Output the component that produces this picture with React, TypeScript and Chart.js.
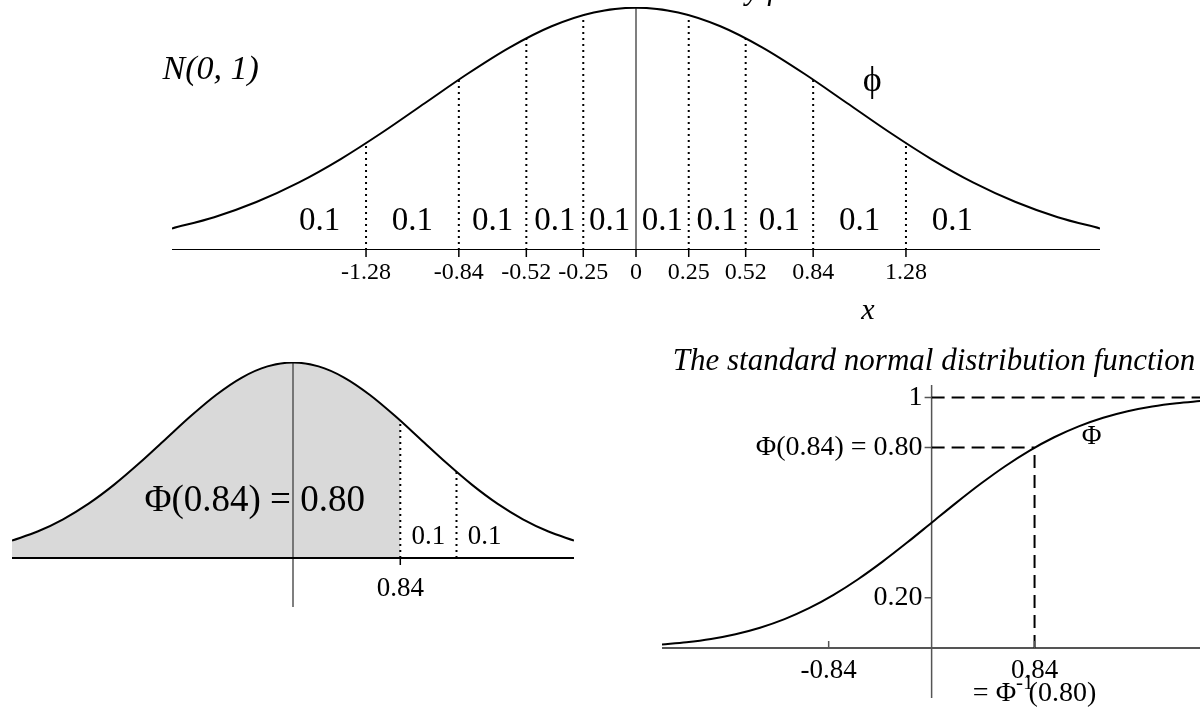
import { useEffect, useRef } from "react";
import { Chart, registerables } from "chart.js";

Chart.register(...registerables);

// Sample points of the standard normal curve
const xs = [-2.2, -2.0, -1.8, -1.6, -1.4, -1.2, -1.0, -0.8, -0.6, -0.4, -0.2, 0, 0.2, 0.4, 0.6, 0.8, 1.0, 1.2, 1.4, 1.6, 1.8, 2.0, 2.2];
const density = [0.0355, 0.054, 0.079, 0.1109, 0.1497, 0.1942, 0.242, 0.2897, 0.3332, 0.3683, 0.391, 0.3989, 0.391, 0.3683, 0.3332, 0.2897, 0.242, 0.1942, 0.1497, 0.1109, 0.079, 0.054, 0.0355];
const cdf = [0.0139, 0.0228, 0.0359, 0.0548, 0.0808, 0.1151, 0.1587, 0.2119, 0.2743, 0.3446, 0.4207, 0.5, 0.5793, 0.6554, 0.7257, 0.7881, 0.8413, 0.8849, 0.9192, 0.9452, 0.9641, 0.9772, 0.9861];

// Decile cut points and the curve height at each cut
const decileCuts = [-1.28, -0.84, -0.52, -0.25, 0.25, 0.52, 0.84, 1.28];
const decileCutDensity = [0.1758, 0.2803, 0.3485, 0.3867, 0.3867, 0.3485, 0.2803, 0.1758];

// Axis ticks of the density panel
const tickValues = [-1.28, -0.84, -0.52, -0.25, 0, 0.25, 0.52, 0.84, 1.28];
const tickLabels = ["-1.28", "-0.84", "-0.52", "-0.25", "0", "0.25", "0.52", "0.84", "1.28"];

// Probability mass of each of the ten slices and where its label sits
const decileMass = [0.1, 0.1, 0.1, 0.1, 0.1, 0.1, 0.1, 0.1, 0.1, 0.1];
const decileLabelX = [-1.5, -1.06, -0.68, -0.385, -0.125, 0.125, 0.385, 0.68, 1.06, 1.5];

// Worked example: Phi(0.84) = 0.80
const exampleQuantile = 0.84;
const exampleProb = 0.8;
const exampleUpperCut = 1.28;
const tailMass = [0.1, 0.1];
const tailLabelX = [1.06, 1.5];

// Ticks of the distribution-function panel
const cdfYTicks = [1, 0.8, 0.2];
const cdfYLabels = ["1", "Φ(0.84) = 0.80", "0.20"];
const cdfXTicks = [-0.84, 0.84];
const cdfXLabels = ["-0.84", "0.84"];

const serif = '"Liberation Serif", "Times New Roman", serif';
const W = 1200;
const H = 711;

const pts = (xv: number[], yv: number[]) => xv.map((x, i) => ({ x, y: yv[i] }));
const seg = (x1: number, y1: number, x2: number, y2: number) => [{ x: x1, y: y1 }, { x: x2, y: y2 }];

const lineDs = (data: any[], extra: any = {}) => ({
  data,
  showLine: true,
  pointRadius: 0,
  borderColor: "#000",
  borderWidth: 2,
  fill: false,
  ...extra,
});

const baseOptions = (
  xmin: number,
  xmax: number,
  ymin: number,
  ymax: number,
  padding: { left: number; right: number; top: number; bottom: number }
) => ({
  responsive: false,
  animation: false as const,
  devicePixelRatio: 1,
  layout: { padding },
  plugins: { legend: { display: false }, tooltip: { enabled: false } },
  events: [] as any[],
  scales: {
    x: { type: "linear" as const, min: xmin, max: xmax, display: false },
    y: { type: "linear" as const, min: ymin, max: ymax, display: false },
  },
});

function densityChart(canvas: HTMLCanvasElement) {
  const datasets: any[] = [
    lineDs(seg(-2.2, 0, 2.2, 0), { order: 5 }),
    lineDs(seg(0, 0, 0, 0.4), { order: 5, borderColor: "#555", borderWidth: 1.5 }),
    ...decileCuts.map((c, i) =>
      lineDs(seg(c, 0, c, decileCutDensity[i]), { order: 3, borderDash: [2, 4] })
    ),
    lineDs(pts(xs, density), { order: 0, cubicInterpolationMode: "monotone" }),
  ];
  return new Chart(canvas, {
    type: "scatter",
    data: { datasets },
    options: baseOptions(-2.2, 2.2, 0, 0.4, { left: 172, right: 100, top: 7, bottom: H - 250 }) as any,
    plugins: [
      {
        id: "densityLabels",
        afterDraw(chart: any) {
          const { ctx } = chart;
          const sx = chart.scales.x;
          const sy = chart.scales.y;
          const y0 = sy.getPixelForValue(0);
          ctx.save();
          ctx.strokeStyle = "#000";
          ctx.lineWidth = 1.5;
          ctx.beginPath();
          tickValues.forEach((v) => {
            const px = sx.getPixelForValue(v);
            ctx.moveTo(px, y0);
            ctx.lineTo(px, y0 + 7);
          });
          ctx.stroke();
          ctx.fillStyle = "#000";
          ctx.textAlign = "center";
          ctx.textBaseline = "middle";
          ctx.font = `24px ${serif}`;
          tickValues.forEach((v, i) => ctx.fillText(tickLabels[i], sx.getPixelForValue(v), y0 + 23));
          ctx.font = `33px ${serif}`;
          decileLabelX.forEach((v, i) => ctx.fillText(String(decileMass[i]), sx.getPixelForValue(v), y0 - 29));
          ctx.font = `36px ${serif}`;
          ctx.fillText("ϕ", sx.getPixelForValue(1.12), sy.getPixelForValue(0.277));
          ctx.font = `italic 30px ${serif}`;
          ctx.fillText("x", sx.getPixelForValue(1.1), y0 + 61);
          ctx.textAlign = "left";
          ctx.font = `italic 34px ${serif}`;
          ctx.fillText("N(0, 1)", sx.getPixelForValue(-2.245), sy.getPixelForValue(0.296));
          ctx.textAlign = "center";
          ctx.textBaseline = "alphabetic";
          ctx.font = `italic 31px ${serif}`;
          ctx.fillText("The standard normal density function", sx.getPixelForValue(0), sy.getPixelForValue(0.4) - 8);
          ctx.restore();
        },
      },
    ],
  });
}

function exampleChart(canvas: HTMLCanvasElement) {
  const shaded = pts(xs, density).filter((p) => p.x < exampleQuantile);
  shaded.push({ x: exampleQuantile, y: decileCutDensity[decileCuts.indexOf(exampleQuantile)] });
  const datasets: any[] = [
    lineDs(shaded, {
      order: 9,
      borderWidth: 0,
      borderColor: "rgba(0,0,0,0)",
      fill: "origin",
      backgroundColor: "#d9d9d9",
      cubicInterpolationMode: "monotone",
    }),
    lineDs(seg(-2.2, 0, 2.2, 0), { order: 5 }),
    lineDs(seg(0, -0.1, 0, 0.4), { order: 5, borderColor: "#555", borderWidth: 1.5 }),
    ...[exampleQuantile, exampleUpperCut].map((c) =>
      lineDs(seg(c, 0, c, decileCutDensity[decileCuts.indexOf(c)]), { order: 3, borderDash: [2, 4] })
    ),
    lineDs(pts(xs, density), { order: 0, cubicInterpolationMode: "monotone" }),
  ];
  return new Chart(canvas, {
    type: "scatter",
    data: { datasets },
    options: baseOptions(-2.2, 2.2, -0.1, 0.4, { left: 12, right: W - 574, top: 362, bottom: H - 607 }) as any,
    plugins: [
      {
        id: "exampleLabels",
        afterDraw(chart: any) {
          const { ctx } = chart;
          const sx = chart.scales.x;
          const sy = chart.scales.y;
          const y0 = sy.getPixelForValue(0);
          const q = sx.getPixelForValue(exampleQuantile);
          ctx.save();
          ctx.strokeStyle = "#000";
          ctx.lineWidth = 1.5;
          ctx.beginPath();
          ctx.moveTo(q, y0);
          ctx.lineTo(q, y0 + 7);
          ctx.stroke();
          ctx.fillStyle = "#000";
          ctx.textAlign = "center";
          ctx.textBaseline = "middle";
          ctx.font = `27px ${serif}`;
          ctx.fillText(exampleQuantile.toFixed(2), q, y0 + 31);
          tailLabelX.forEach((v, i) => ctx.fillText(String(tailMass[i]), sx.getPixelForValue(v), y0 - 21));
          ctx.font = `37px ${serif}`;
          ctx.fillText(
            `Φ(${exampleQuantile.toFixed(2)}) = ${exampleProb.toFixed(2)}`,
            sx.getPixelForValue(-0.3),
            y0 - 57
          );
          ctx.restore();
        },
      },
    ],
  });
}

function cdfChart(canvas: HTMLCanvasElement) {
  const datasets: any[] = [
    lineDs(seg(-2.2, 0, 2.2, 0), { order: 5, borderColor: "#555" }),
    lineDs(seg(0, -0.2, 0, 1.05), { order: 5, borderColor: "#555", borderWidth: 1.5 }),
    lineDs(seg(0, 1, 2.2, 1), { order: 3, borderDash: [13, 7] }),
    lineDs(seg(0, exampleProb, exampleQuantile, exampleProb), { order: 3, borderDash: [13, 7] }),
    lineDs(seg(exampleQuantile, 0, exampleQuantile, exampleProb), { order: 3, borderDash: [13, 7] }),
    lineDs(pts(xs, cdf), { order: 0, cubicInterpolationMode: "monotone" }),
  ];
  return new Chart(canvas, {
    type: "scatter",
    data: { datasets },
    options: baseOptions(-2.2, 2.19, -0.2, 1.05, { left: 662, right: 0, top: 385, bottom: H - 698 }) as any,
    plugins: [
      {
        id: "cdfLabels",
        afterDraw(chart: any) {
          const { ctx, chartArea } = chart;
          const sx = chart.scales.x;
          const sy = chart.scales.y;
          const x0 = sx.getPixelForValue(0);
          const y0 = sy.getPixelForValue(0);
          ctx.save();
          ctx.strokeStyle = "#555";
          ctx.lineWidth = 1.5;
          ctx.beginPath();
          cdfYTicks.forEach((v) => {
            const py = sy.getPixelForValue(v);
            ctx.moveTo(x0 - 7, py);
            ctx.lineTo(x0, py);
          });
          cdfXTicks.forEach((v) => {
            const px = sx.getPixelForValue(v);
            ctx.moveTo(px, y0);
            ctx.lineTo(px, y0 - 7);
          });
          ctx.stroke();
          ctx.fillStyle = "#000";
          ctx.textBaseline = "middle";
          ctx.font = `28px ${serif}`;
          ctx.textAlign = "right";
          cdfYTicks.forEach((v, i) => ctx.fillText(cdfYLabels[i], x0 - 9, sy.getPixelForValue(v)));
          ctx.textAlign = "center";
          ctx.font = `27px ${serif}`;
          cdfXTicks.forEach((v, i) => ctx.fillText(cdfXLabels[i], sx.getPixelForValue(v), y0 + 23));
          ctx.fillText("Φ", sx.getPixelForValue(1.305), sy.getPixelForValue(0.844));

          // "= Φ^-1(0.80)" under the quantile label
          const a = "= Φ";
          const sup = "-1";
          const b = `(${exampleProb.toFixed(2)})`;
          ctx.font = `28px ${serif}`;
          const wa = ctx.measureText(a).width;
          const wb = ctx.measureText(b).width;
          ctx.font = `21px ${serif}`;
          const ws = ctx.measureText(sup).width;
          const total = wa + ws + wb - 5;
          let cx = sx.getPixelForValue(exampleQuantile) - total / 2;
          const cy = y0 + 46;
          ctx.textAlign = "left";
          ctx.font = `28px ${serif}`;
          ctx.fillText(a, cx, cy);
          cx += wa;
          ctx.font = `21px ${serif}`;
          ctx.fillText(sup, cx, cy - 10);
          cx += ws - 5;
          ctx.font = `28px ${serif}`;
          ctx.fillText(b, cx, cy);

          ctx.textAlign = "center";
          ctx.font = `italic 31px ${serif}`;
          ctx.fillText(
            "The standard normal distribution function",
            (chartArea.left + chartArea.right) / 2 + 3,
            362
          );
          ctx.restore();
        },
      },
    ],
  });
}

export default function App() {
  const topRef = useRef<HTMLCanvasElement>(null);
  const leftRef = useRef<HTMLCanvasElement>(null);
  const rightRef = useRef<HTMLCanvasElement>(null);

  useEffect(() => {
    const charts: Chart[] = [];
    if (topRef.current) charts.push(densityChart(topRef.current));
    if (leftRef.current) charts.push(exampleChart(leftRef.current));
    if (rightRef.current) charts.push(cdfChart(rightRef.current));
    return () => charts.forEach((c) => c.destroy());
  }, []);

  const canvasStyle: any = { position: "absolute", left: 0, top: 0, width: W, height: H };
  return (
    <div style={{ position: "fixed", left: 0, top: 0, width: W, height: H, background: "#fff", overflow: "hidden" }}>
      <canvas ref={leftRef} width={W} height={H} style={canvasStyle} />
      <canvas ref={rightRef} width={W} height={H} style={canvasStyle} />
      <canvas ref={topRef} width={W} height={H} style={canvasStyle} />
    </div>
  );
}
